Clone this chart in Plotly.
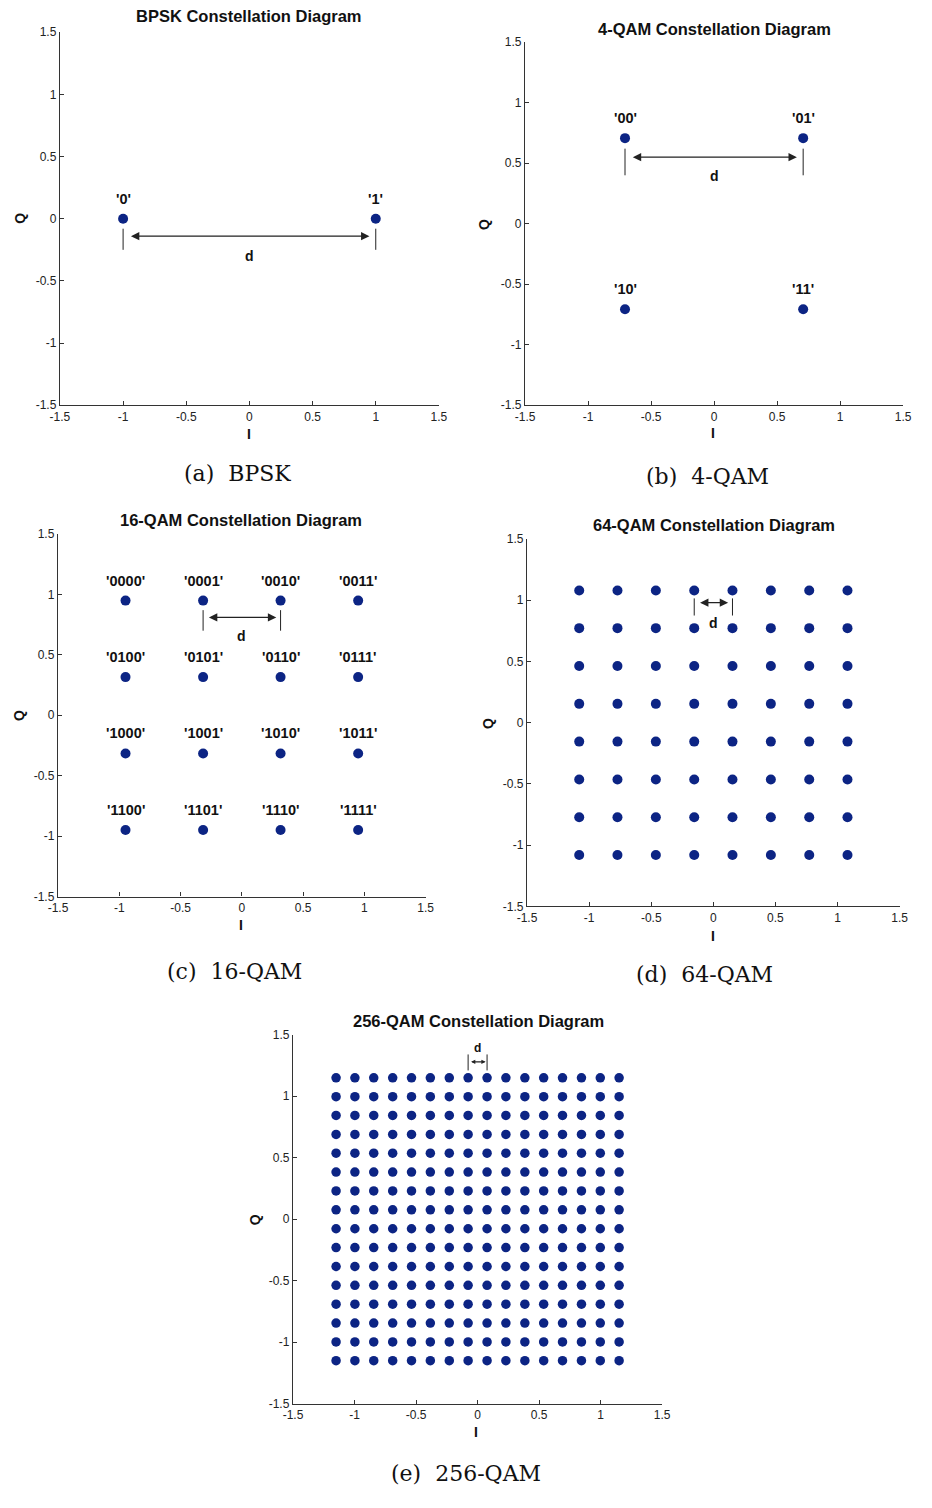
import plotly.graph_objects as go

# The page keeps an 8px body margin, so the figure is sized to fit the
# 932x1508 window exactly and all pixel positions are offset by that margin.
PAGE_W, PAGE_H = 932, 1508
OFF = 8
W, H = PAGE_W - 2 * OFF, PAGE_H - 2 * OFF

# ---------------- data ----------------
bpsk_i = [-1.0, 1.0]
bpsk_q = [0.0, 0.0]
bpsk_labels = ["'0'", "'1'"]

qam4_i = [-0.707, 0.707, -0.707, 0.707]
qam4_q = [0.707, 0.707, -0.707, -0.707]
qam4_labels = ["'00'", "'01'", "'10'", "'11'"]

qam16_i_levels = [-0.949, -0.316, 0.316, 0.949]
qam16_q_levels = [0.949, 0.316, -0.316, -0.949]
qam16_labels = [
    ["'0000'", "'0001'", "'0010'", "'0011'"],
    ["'0100'", "'0101'", "'0110'", "'0111'"],
    ["'1000'", "'1001'", "'1010'", "'1011'"],
    ["'1100'", "'1101'", "'1110'", "'1111'"],
]

qam64_levels = [-1.080, -0.772, -0.463, -0.154, 0.154, 0.463, 0.772, 1.080]

qam256_levels = [-1.150, -0.997, -0.844, -0.690, -0.537, -0.384, -0.230, -0.077,
                 0.077, 0.230, 0.384, 0.537, 0.690, 0.844, 0.997, 1.150]

tick_vals = [-1.5, -1, -0.5, 0, 0.5, 1, 1.5]
tick_text = ["-1.5", "-1", "-0.5", "0", "0.5", "1", "1.5"]

titles = ["BPSK Constellation Diagram", "4-QAM Constellation Diagram",
          "16-QAM Constellation Diagram", "64-QAM Constellation Diagram",
          "256-QAM Constellation Diagram"]
captions = ["(a)  BPSK", "(b)  4-QAM", "(c)  16-QAM", "(d)  64-QAM", "(e)  256-QAM"]

# "d" distance markers: (x_left, x_right, bar_bottom, bar_top, arrow_y, label_y)
d_marks = [
    (-1.0, 1.0, -0.25, -0.08, -0.14, -0.30),
    (-0.707, 0.707, 0.40, 0.62, 0.55, 0.39),
    (-0.316, 0.316, 0.70, 0.87, 0.81, 0.66),
    (-0.154, 0.154, 0.875, 1.015, 0.98, 0.81),
    (-0.077, 0.077, 1.21, 1.34, 1.28, 1.39),
]

# ---------------- layout (page pixel boxes: left, right, top, bottom) ----------------
boxes = [
    (59, 446, 33.5, 410),
    (534, 920, 43.5, 410),
    (57, 432.5, 540, 906),
    (536, 916.5, 545, 916),
    (297, 674, 1045.5, 1418),
]
title_pos = [(252, 17.5), (727, 30), (244, 525.5), (727, 530.5), (486, 1031.5)]
caption_pos = [(240, 479), (720, 482), (237, 982), (717, 985), (474, 1488)]
q_pos = [(18, 221), (492, 227), (17, 723), (496, 731), (258, 1232)]
i_pos = [(252, 439), (726, 438), (244, 935), (726, 946), (484, 1447)]


def px(x):
    return (x - OFF) / W


def py(y):
    return 1 - (y - OFF) / H


MARKER_COLOR = "#0c2484"
AXIS_COLOR = "#333333"
SANS = "Liberation Sans, Arial, sans-serif"
SERIF = "DejaVu Serif, serif"

fig = go.Figure()

# points
all_pts = []
all_pts.append((bpsk_i, bpsk_q, bpsk_labels))
all_pts.append((qam4_i, qam4_q, qam4_labels))
i16, q16, l16 = [], [], []
for r, qv in enumerate(qam16_q_levels):
    for c, iv in enumerate(qam16_i_levels):
        i16.append(iv)
        q16.append(qv)
        l16.append(qam16_labels[r][c])
all_pts.append((i16, q16, l16))
i64, q64 = [], []
for qv in qam64_levels:
    for iv in qam64_levels:
        i64.append(iv)
        q64.append(qv)
all_pts.append((i64, q64, None))
i256, q256 = [], []
for qv in qam256_levels:
    for iv in qam256_levels:
        i256.append(iv)
        q256.append(qv)
all_pts.append((i256, q256, None))

annotations = []
shapes = []
msizes = [10, 10, 10, 10, 9.5]

for k in range(5):
    n = "" if k == 0 else str(k + 1)
    xa = "x" + n
    ya = "y" + n
    xs, ys, labs = all_pts[k]
    fig.add_trace(go.Scatter(
        x=xs, y=ys, mode="markers", xaxis=xa, yaxis=ya,
        marker=dict(size=msizes[k], color=MARKER_COLOR, line=dict(width=0)),
        showlegend=False, hoverinfo="skip"))
    if labs:
        for xv, yv, t in zip(xs, ys, labs):
            annotations.append(dict(
                x=xv, y=yv, xref=xa, yref=ya, text="<b>" + t + "</b>",
                showarrow=False, yshift=20,
                font=dict(family=SANS, size=14.5, color="#111111")))
    l, r, t_, b = boxes[k]
    axis_common = dict(
        range=[-1.5, 1.5], tickvals=tick_vals, ticktext=tick_text,
        showline=True, linecolor=AXIS_COLOR, linewidth=1.4,
        ticks="inside", ticklen=4, tickwidth=1, tickcolor=AXIS_COLOR,
        showgrid=False, zeroline=False, mirror=False,
        tickfont=dict(family=SANS, size=12, color="#222222"),
        fixedrange=True,
    )
    fig.update_layout(**{
        ("xaxis" + n): dict(domain=[px(l), px(r)], anchor=ya, **axis_common),
        ("yaxis" + n): dict(domain=[py(b), py(t_)], anchor=xa, **axis_common),
    })

    # distance marker
    xl, xr, bb, bt, ay_, ly = d_marks[k]
    for xv in (xl, xr):
        shapes.append(dict(type="line", xref=xa, yref=ya, x0=xv, x1=xv,
                           y0=bb, y1=bt, line=dict(color="#222222", width=1)))
    gap = 0.05 if k < 2 else (0.035 if k < 4 else 0.012)
    annotations.append(dict(
        x=xr - gap, y=ay_, ax=xl + gap, ay=ay_, xref=xa, yref=ya,
        axref=xa, ayref=ya, text="", showarrow=True, arrowside="end+start",
        arrowhead=2, arrowsize=1.4 if k < 4 else 0.7, arrowwidth=1.2,
        arrowcolor="#222222"))
    annotations.append(dict(
        x=0, y=ly, xref=xa, yref=ya, text="<b>d</b>", showarrow=False,
        font=dict(family=SANS, size=14 if k < 4 else 12, color="#111111")))

    # title
    tx, ty = title_pos[k]
    annotations.append(dict(
        x=px(tx), y=py(ty), xref="paper", yref="paper",
        text="<b>" + titles[k] + "</b>", showarrow=False,
        xanchor="center", yanchor="middle",
        font=dict(family=SANS, size=16.5, color="#111111")))
    # caption
    cx, cy = caption_pos[k]
    annotations.append(dict(
        x=px(cx), y=py(cy), xref="paper", yref="paper",
        text=captions[k], showarrow=False, xanchor="center", yanchor="middle",
        font=dict(family=SERIF, size=22, color="#111111")))
    # axis titles
    qx, qy = q_pos[k]
    annotations.append(dict(
        x=px(qx), y=py(qy), xref="paper", yref="paper", text="<b>Q</b>",
        showarrow=False, textangle=-90, xanchor="center", yanchor="middle",
        font=dict(family=SANS, size=14, color="#111111")))
    ix, iy = i_pos[k]
    annotations.append(dict(
        x=px(ix), y=py(iy), xref="paper", yref="paper", text="<b>I</b>",
        showarrow=False, xanchor="center", yanchor="middle",
        font=dict(family=SANS, size=14, color="#111111")))

fig.update_layout(
    width=W, height=H, margin=dict(l=0, r=0, t=0, b=0),
    paper_bgcolor="white", plot_bgcolor="white",
    annotations=annotations, shapes=shapes, showlegend=False,
)

fig.write_html("out.html", config={"displayModeBar": False})
